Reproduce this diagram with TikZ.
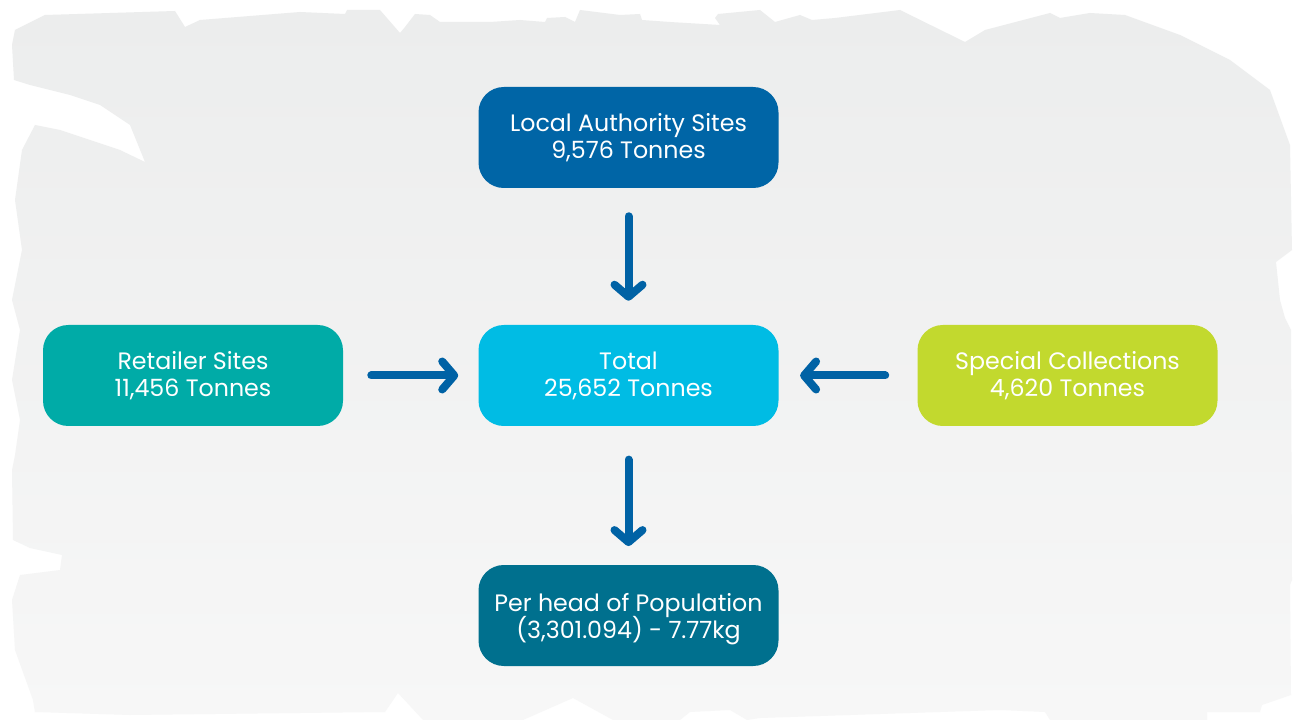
\documentclass[tikz,border=0pt]{standalone}
\usepackage{fontspec}
\setmainfont{Poppins}
\usetikzlibrary{arrows.meta}
\definecolor{bgtop}{RGB}{236,237,237}
\definecolor{bgbot}{RGB}{247,247,247}
\definecolor{laC}{RGB}{0,101,166}
\definecolor{retC}{RGB}{0,171,167}
\definecolor{totC}{RGB}{0,188,228}
\definecolor{spcC}{RGB}{194,217,46}
\definecolor{phC}{RGB}{0,112,142}
\definecolor{arrC}{RGB}{0,98,165}
\begin{document}
\begin{tikzpicture}[x=0.75pt,y=-0.75pt,
  box/.style={rectangle, rounded corners=19pt, minimum width=225pt, minimum height=75.75pt,
    inner sep=0pt, align=center, text=white, font=\fontsize{17.8}{20.3}\selectfont},
  flow/.style={draw=arrC, line width=6pt, line cap=round,
    -{Straight Barb[length=9pt,width=21pt,line cap=round,line join=round]}}]
\useasboundingbox (0,0) rectangle (1297,720);
\fill[white] (0,0) rectangle (1297,720);
% brushed background
\shade[top color=bgtop, bottom color=bgbot]
 (45,15) -- (175,11) -- (185,27) -- (200,20) -- (300,12) -- (345,14) -- (347,10) -- (380,10)
 -- (400,33) -- (405,27) -- (415,14) -- (430,15) -- (440,22) -- (490,22) -- (520,20) -- (545,22)
 -- (547,18) -- (565,17) -- (575,22) -- (580,10) -- (620,15) -- (640,14) -- (642,20) -- (670,22)
 -- (720,25) -- (715,18) -- (718,14) -- (760,10) -- (775,22) -- (800,15) -- (812,20) -- (835,18)
 -- (900,10) -- (965,42) -- (985,30) -- (1050,13) -- (1060,18) -- (1090,13) -- (1125,15)
 -- (1180,35) -- (1230,60) -- (1270,90) -- (1290,145) -- (1292,250) -- (1276,262) -- (1280,300)
 -- (1285,318) -- (1291,330) -- (1292,580) -- (1290,585) -- (1291,695) -- (1262,705)
 -- (1260,712) -- (1207,712) -- (1207,720) -- (1050,720) -- (1045,712) -- (1000,710)
 -- (760,718) -- (747,720) -- (730,710) -- (690,712) -- (680,720) -- (613,720) -- (573,698)
 -- (523,720) -- (423,720) -- (398,693) -- (385,712) -- (130,715) -- (35,712) -- (33,700)
 -- (15,650) -- (12,600) -- (20,575) -- (60,570) -- (62,555) -- (30,548) -- (13,540)
 -- (12,470) -- (15,455) -- (20,420) -- (12,380) -- (20,330) -- (12,300) -- (22,250)
 -- (15,200) -- (22,150) -- (35,125) -- (60,130) -- (90,140) -- (120,150) -- (145,162)
 -- (130,125) -- (100,105) -- (70,95) -- (30,85) -- (14,80) -- (12,45) -- (15,30) -- cycle;
% boxes
\node[box, fill=laC]  (la)  at (628.5,137.5) {Local Authority Sites\\9,576 Tonnes};
\node[box, fill=retC] (ret) at (193,375.5)   {Retailer Sites\\11,456 Tonnes};
\node[box, fill=totC] (tot) at (628.5,375.5) {Total\\25,652 Tonnes};
\node[box, fill=spcC] (spc) at (1067.5,375.5) {Special Collections\\4,620 Tonnes};
\node[box, fill=phC]  (ph)  at (628.5,615.5) {Per head of Population\\\smash{(3,301.094) - 7.77kg}};
% connectors
\draw[flow, shorten <=21pt, shorten >=18pt] (la) -- (tot);
\draw[flow, shorten <=21pt, shorten >=15pt] (ret) -- (tot);
\draw[flow, shorten <=24pt, shorten >=16pt] (spc) -- (tot);
\draw[flow, shorten <=25pt, shorten >=14pt] (tot) -- (ph);
\end{tikzpicture}
\end{document}
